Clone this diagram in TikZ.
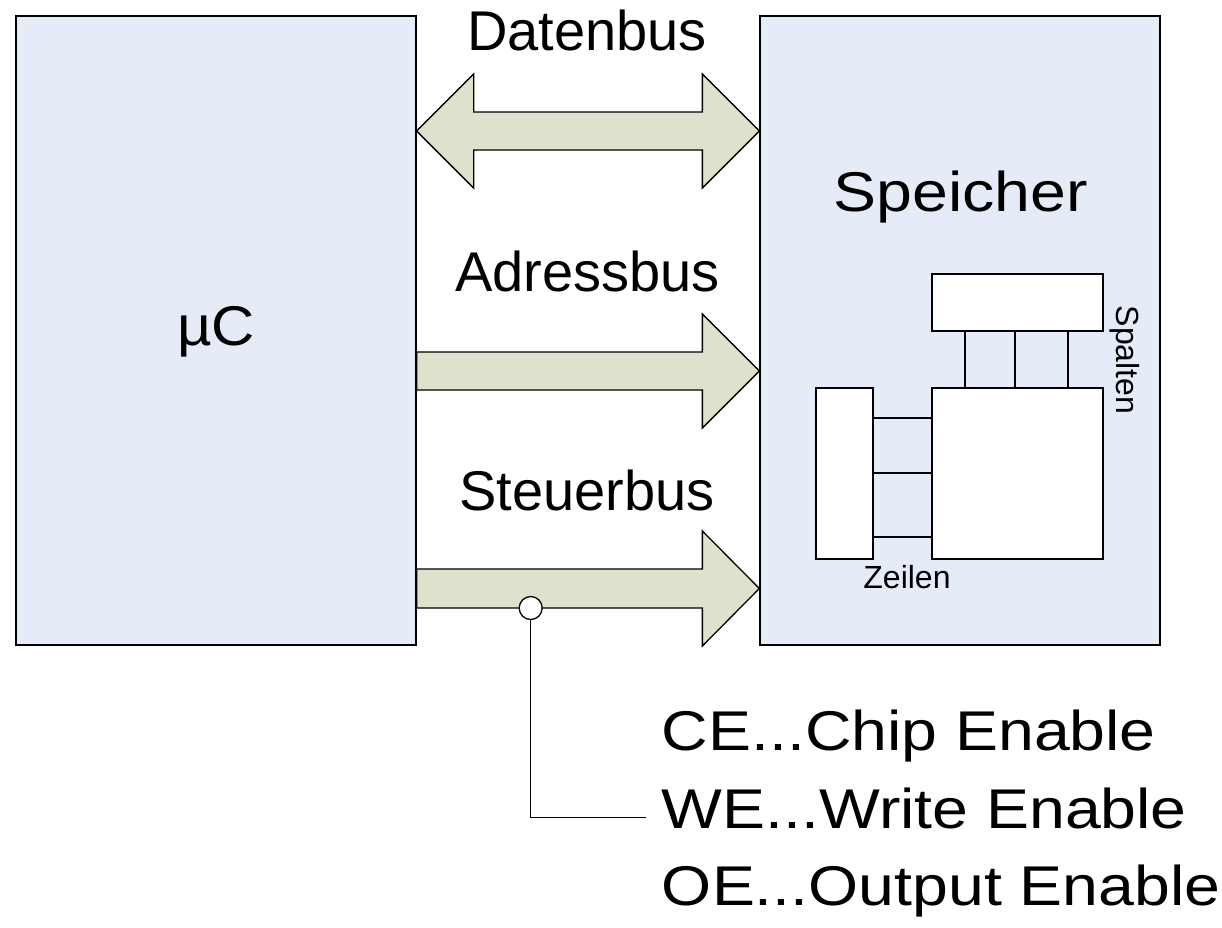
\documentclass[tikz,border=0pt]{standalone}
\usepackage{fontspec}
\setmainfont{Liberation Sans}
\usepackage{tikz}
\usetikzlibrary{positioning, calc}

\definecolor{boxblue}{RGB}{230,236,247}
\definecolor{busgreen}{RGB}{221,226,204}

\begin{document}
\begin{tikzpicture}[
  x=1pt, y=-1pt,
  box/.style={
    draw, line width=1.3pt, fill=boxblue,
    minimum width=400pt, minimum height=629pt, inner sep=0pt
  },
  cell/.style={draw, line width=1.4pt, fill=white, inner sep=0pt},
  bus/.style={draw, line width=1.3pt, fill=busgreen, line join=miter},
  wire/.style={line width=1.5pt},
  big/.style={font=\fontsize{56}{67}\selectfont, inner sep=0pt},
  tiny/.style={font=\fontsize{32}{38}\selectfont, inner sep=0pt}
]
\useasboundingbox (0,0) rectangle (1222,927);

% Boxes
\node[box] (uc) at (216,330.5) {};
\node[box] (mem) at (960,330.5) {};
\node[big, anchor=base] (uclbl) at (216,345) {\scalebox{1.07}[1]{µC}};
\node[big, anchor=base] (memlbl) at (961,211.7) {\scalebox{1.15}[1]{Speicher}};

% Memory organisation
\node[cell, minimum width=171pt, minimum height=57pt] (colsel) at (1017.5,302.5) {};
\node[cell, minimum width=171pt, minimum height=171pt] (array) at (1017.5,473.5) {};
\node[cell, minimum width=57pt, minimum height=171pt] (rowdec) at (844.5,473.5) {};
\foreach \x in {965,1015,1068}
  \draw[wire] (\x,0 |- colsel.south) -- (\x,0 |- array.north);
\foreach \y in {418,473,537}
  \draw[wire] (rowdec.east |- 0,\y) -- (array.west |- 0,\y);
\node[tiny, anchor=base, rotate=-90] (spalten) at (1116.7,360) {Spalten};
\node[tiny, anchor=base] (zeilen) at (907,588) {Zeilen};

% Buses
\coordinate (d1) at (uc.east |- 0,131);
\coordinate (d2) at (mem.west |- 0,131);
\coordinate (a1) at (uc.east |- 0,371);
\coordinate (a2) at (mem.west |- 0,371);
\coordinate (s1) at (uc.east |- 0,588.5);
\coordinate (s2) at (mem.west |- 0,588.5);

\draw[bus] (d1) -- ($(d1)+(57,-57)$) -- ($(d1)+(57,-19)$) -- ($(d2)+(-57,-19)$)
  -- ($(d2)+(-57,-57)$) -- (d2) -- ($(d2)+(-57,57)$) -- ($(d2)+(-57,19)$)
  -- ($(d1)+(57,19)$) -- ($(d1)+(57,57)$) -- cycle;
\draw[bus] (a1) -- ($(a1)+(0,-19)$) -- ($(a2)+(-57,-19)$) -- ($(a2)+(-57,-57)$)
  -- (a2) -- ($(a2)+(-57,57)$) -- ($(a2)+(-57,19)$) -- ($(a1)+(0,19)$) -- cycle;
\draw[bus] (s1) -- ($(s1)+(0,-19.5)$) -- ($(s2)+(-57,-19.5)$) -- ($(s2)+(-57,-57.5)$)
  -- (s2) -- ($(s2)+(-57,57.5)$) -- ($(s2)+(-57,19.5)$) -- ($(s1)+(0,19.5)$) -- cycle;

\node[big, anchor=base] (datenbus) at (587,50) {Datenbus};
\node[big, anchor=base] (adressbus) at (587.5,291.7) {Adressbus};
\node[big, anchor=base] (steuerbus) at (587,510) {Steuerbus};

% Control signals
\node[circle, draw, line width=1.3pt, fill=white, minimum size=23pt, inner sep=0pt] (tap) at (530.7,608) {};
\coordinate (sigend) at (646,817.3);
\draw[wire] (tap.south) |- (sigend);

\node[big, anchor=base west] (ce) at (661.7,750) {\scalebox{1.15}[1]{CE...Chip Enable}};
\node[big, anchor=base west] (we) at (661.7,828) {\scalebox{1.15}[1]{WE...Write Enable}};
\node[big, anchor=base west] (oe) at (661.7,905) {\scalebox{1.15}[1]{OE...Output Enable}};

\end{tikzpicture}
\end{document}
